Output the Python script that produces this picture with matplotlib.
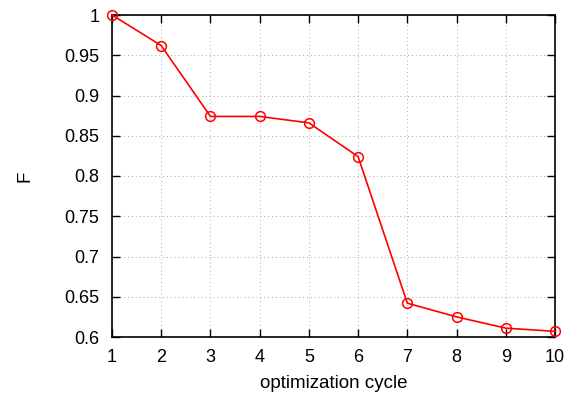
import matplotlib
matplotlib.use("Agg")
from matplotlib import pyplot as plt

cycles = [1, 2, 3, 4, 5, 6, 7, 8, 9, 10]
F_values = [1.0, 0.962, 0.874, 0.874, 0.866, 0.824, 0.642, 0.625, 0.611, 0.607]
y_ticks = [0.6, 0.65, 0.7, 0.75, 0.8, 0.85, 0.9, 0.95, 1.0]
y_labels = ["0.6", "0.65", "0.7", "0.75", "0.8", "0.85", "0.9", "0.95", "1"]

plt.rcParams["font.family"] = ["Liberation Sans", "DejaVu Sans"]

fig = plt.figure(figsize=(5.81, 4.01), dpi=100)
ax = fig.add_axes([112 / 581, 1 - 337 / 401, 443 / 581, 322 / 401])

ax.plot(cycles, F_values, color="red", linewidth=1.2, marker="o", markersize=7,
        markerfacecolor="none", markeredgecolor="red", markeredgewidth=1.1, clip_on=False, zorder=3)

ax.set_xlim(1, 10)
ax.set_ylim(0.6, 1.0)
ax.set_xticks(cycles)
ax.set_yticks(y_ticks)
ax.set_yticklabels(y_labels)
ax.tick_params(direction="in", top=True, right=True, length=6, width=1, labelsize=13, pad=9)
ax.grid(True, linestyle=(0, (1, 3)), color="#aaaaaa", linewidth=0.7)
for s in ax.spines.values():
    s.set_linewidth(1.2)

ax.set_xlabel("optimization cycle", fontsize=13.5, labelpad=6)
ax.set_ylabel("F", fontsize=13.5, labelpad=22)

fig.savefig("out.png", dpi=100)
